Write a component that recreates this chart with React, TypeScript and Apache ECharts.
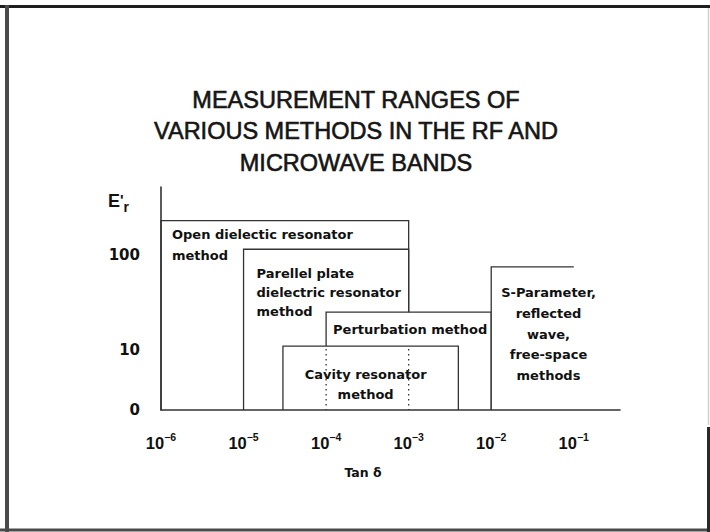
import React, { useEffect, useRef } from 'react';
import * as echarts from 'echarts';

// ---------- data ----------
const TITLE_LINES = ['MEASUREMENT RANGES OF', 'VARIOUS METHODS IN THE RF AND', 'MICROWAVE BANDS'];

const METHOD_LABELS = [
  'Open dielectic resonator\nmethod',
  'Parellel plate\ndielectric resonator\nmethod',
  'Perturbation method',
  'Cavity resonator\nmethod',
  'S-Parameter,\nreflected\nwave,\nfree-space\nmethods',
];
// tan δ range covered by each method
const TAN_MIN = [1e-6, 1e-5, 1e-4, 3e-5, 1e-2];
const TAN_MAX = [1e-3, 1e-3, 1e-2, 4e-3, 1e-1];
// upper ε'r reached by each method (lower bound is the axis floor "0")
const ER_TOP = [230, 115, 25, 11, 75];
const RIGHT_EDGE = [true, true, true, true, false];
const SHOW_HIDDEN_EDGES = [false, false, false, true, false];

const X_TICK_EXPONENTS = [-6, -5, -4, -3, -2, -1];
const Y_TICK_LABELS = [0, 10, 100];
const X_NAME = 'Tan δ';

// ---------- axis configuration ----------
const X_MIN = -6;
const X_MAX = -0.44;
const Y_FLOOR = 0.368; // log10 position of the "0" floor
const Y_CEIL = 2.716;

const LINE_COLOR = '#333';
const TEXT_COLOR = '#111';
const BOX_FONT = 'DejaVu Sans';

const LABEL_LAYOUT = [
  { align: 'left', dx: 11, dy: 14, lh: 21 },
  { align: 'left', dx: 13, dy: 24, lh: 19 },
  { align: 'left', dx: 7, dy: 17, lh: 20 },
  { align: 'center', dx: -5, dy: 28, lh: 20 },
  { align: 'center', dx: 16, dy: 26, lh: 20.7 },
];

export default function App() {
  const ref = useRef<HTMLDivElement>(null);

  useEffect(() => {
    document.body.style.margin = '0';
    const chart = echarts.init(ref.current!, undefined, { renderer: 'svg' });

    const seriesData = METHOD_LABELS.map((name, i) => ({
      name,
      value: [Math.log10(TAN_MIN[i]), Math.log10(TAN_MAX[i]), Math.log10(ER_TOP[i])],
    }));

    const yTickValues = Y_TICK_LABELS.map((v) => (v === 0 ? Y_FLOOR : Math.log10(v)));

    const option: any = {
      animation: false,
      backgroundColor: '#fff',
      grid: { left: 161, right: 90, top: 187, bottom: 122 },
      xAxis: {
        type: 'value',
        min: X_MIN,
        max: X_MAX,
        z: 5,
        splitLine: { show: false },
        axisTick: { show: false },
        axisLine: { show: true, lineStyle: { color: LINE_COLOR, width: 1.6 } },
        axisLabel: {
          customValues: X_TICK_EXPONENTS,
          margin: 21,
          formatter: (v: number) => `{b|10}{s|−${Math.abs(Math.round(v))}}`,
          rich: {
            b: {
              fontFamily: 'Liberation Sans',
              fontWeight: 'bold',
              fontSize: 16.5,
              color: TEXT_COLOR,
              lineHeight: 20,
              verticalAlign: 'bottom',
            },
            s: {
              fontFamily: 'Liberation Sans',
              fontWeight: 'bold',
              fontSize: 10.5,
              color: TEXT_COLOR,
              lineHeight: 12,
              verticalAlign: 'top',
            },
          },
        },
      },
      yAxis: {
        type: 'value',
        min: Y_FLOOR,
        max: Y_CEIL,
        z: 5,
        splitLine: { show: false },
        axisTick: { show: false },
        axisLine: { show: true, lineStyle: { color: LINE_COLOR, width: 1.6 } },
        axisLabel: {
          customValues: yTickValues,
          margin: 21,
          fontFamily: BOX_FONT,
          fontWeight: 'bold',
          fontSize: 15,
          color: TEXT_COLOR,
          formatter: (v: number) => {
            const idx = yTickValues.findIndex((t) => Math.abs(t - v) < 1e-6);
            return idx >= 0 ? String(Y_TICK_LABELS[idx]) : '';
          },
        },
      },
      series: [
        {
          type: 'custom',
          coordinateSystem: 'cartesian2d',
          z: 2,
          data: seriesData,
          renderItem: (params: any, api: any) => {
            const i = params.dataIndex;
            const x0 = api.value(0) as number;
            const x1 = api.value(1) as number;
            const yt = api.value(2) as number;
            const [lx, ty] = api.coord([x0, yt]);
            const [rx, by] = api.coord([x1, Y_FLOOR]);
            const pts: number[][] = [[lx, by], [lx, ty], [rx, ty]];
            if (RIGHT_EDGE[i]) pts.push([rx, by]);
            const children: any[] = [
              {
                type: 'rect',
                shape: { x: lx, y: ty, width: rx - lx, height: by - ty },
                style: { fill: '#fff' },
              },
              {
                type: 'polyline',
                shape: { points: pts },
                style: { stroke: LINE_COLOR, lineWidth: 1.3, fill: 'none' },
              },
            ];
            if (SHOW_HIDDEN_EDGES[i]) {
              const seen = new Set<number>();
              for (let j = 0; j < i; j++) {
                if (ER_TOP[j] <= ER_TOP[i]) continue;
                const edges = [TAN_MIN[j]];
                if (RIGHT_EDGE[j]) edges.push(TAN_MAX[j]);
                edges.forEach((e) => {
                  const ex = Math.log10(e);
                  if (ex > x0 && ex < x1 && !seen.has(e)) {
                    seen.add(e);
                    const px = api.coord([ex, yt])[0];
                    children.push({
                      type: 'line',
                      shape: { x1: px, y1: ty + 3, x2: px, y2: by },
                      style: { stroke: LINE_COLOR, lineWidth: 1.3, lineDash: [1.5, 3.5] },
                    });
                  }
                });
              }
            }
            const L = LABEL_LAYOUT[i];
            const tx = L.align === 'left' ? lx + L.dx : (lx + rx) / 2 + L.dx;
            children.push({
              type: 'text',
              style: {
                text: METHOD_LABELS[i],
                x: tx,
                y: ty + L.dy - L.lh / 2,
                align: L.align,
                verticalAlign: 'top',
                lineHeight: L.lh,
                fill: TEXT_COLOR,
                fontFamily: BOX_FONT,
                fontWeight: 'bold',
                fontSize: 13,
              },
            });
            return { type: 'group', children };
          },
        },
      ],
      graphic: [
        // title
        {
          type: 'text',
          x: 356,
          y: 84,
          style: {
            text: TITLE_LINES.join('\n'),
            align: 'center',
            verticalAlign: 'top',
            lineHeight: 31.5,
            fontFamily: 'Liberation Sans',
            fontSize: 23.5,
            fontWeight: 'normal',
            fill: '#151515',
            stroke: '#151515',
            lineWidth: 0.6,
          },
        },
        // slide frame
        { type: 'line', shape: { x1: 0, y1: 6.5, x2: 710, y2: 6.5 }, style: { stroke: '#1e1e1e', lineWidth: 3 } },
        { type: 'line', shape: { x1: 7, y1: 5, x2: 7, y2: 532 }, style: { stroke: '#4a4a4a', lineWidth: 4 } },
        { type: 'line', shape: { x1: 0, y1: 530, x2: 710, y2: 530 }, style: { stroke: '#4a4a4a', lineWidth: 3 } },
        { type: 'line', shape: { x1: 708.5, y1: 8, x2: 708.5, y2: 425 }, style: { stroke: '#cfcfcf', lineWidth: 1.5 } },
        { type: 'line', shape: { x1: 708.5, y1: 427, x2: 708.5, y2: 532 }, style: { stroke: '#2a2a2a', lineWidth: 3 } },
        // y axis name E'r
        {
          type: 'text',
          left: 108,
          top: 192,
          style: {
            text: "{e|E}{p|'}{r|r}",
            rich: {
              e: { fontFamily: 'Liberation Sans', fontWeight: 'bold', fontSize: 18, lineHeight: 22, verticalAlign: 'top', fill: TEXT_COLOR },
              p: { fontFamily: 'Liberation Sans', fontWeight: 'bold', fontSize: 15, lineHeight: 22, verticalAlign: 'top', fill: TEXT_COLOR },
              r: { fontFamily: 'Liberation Sans', fontWeight: 'bold', fontSize: 14, lineHeight: 14, verticalAlign: 'bottom', fill: TEXT_COLOR },
            },
          },
        },
        // x axis name
        {
          type: 'text',
          x: 363,
          y: 472,
          style: {
            text: X_NAME,
            align: 'center',
            verticalAlign: 'middle',
            fontFamily: BOX_FONT,
            fontWeight: 'bold',
            fontSize: 12.5,
            fill: TEXT_COLOR,
          },
        },
      ],
    };

    chart.setOption(option);
    return () => chart.dispose();
  }, []);

  return (
    <div
      ref={ref}
      style={{ position: 'absolute', left: 0, top: 0, width: 710, height: 532 }}
    />
  );
}
